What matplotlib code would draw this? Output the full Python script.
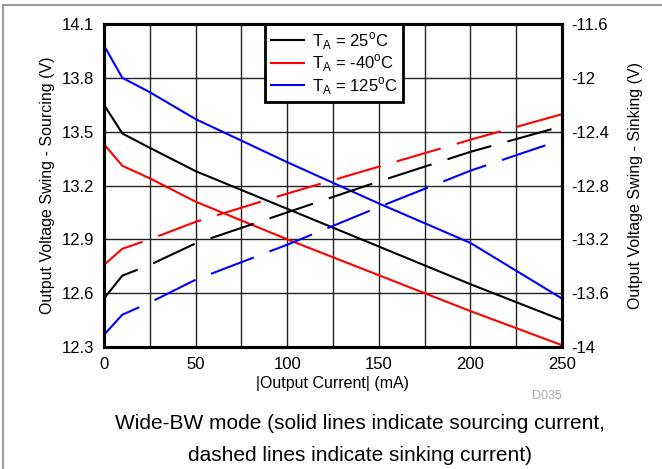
import matplotlib.pyplot as plt
from matplotlib.lines import Line2D
import numpy as np

plt.rcParams['font.family'] = ['Liberation Sans', 'DejaVu Sans']

# |output current| in mA
current = [0, 10, 25, 50, 100, 150, 200, 250]

# sourcing (solid, left axis, V)
src_25 = [13.65, 13.49, 13.41, 13.28, 13.07, 12.86, 12.65, 12.45]
src_m40 = [13.43, 13.31, 13.24, 13.11, 12.90, 12.70, 12.50, 12.31]
src_125 = [13.98, 13.80, 13.72, 13.57, 13.33, 13.10, 12.88, 12.57]

# sinking (dashed, right axis, V)
snk_25 = [-13.64, -13.47, -13.39, -13.23, -13.00, -12.77, -12.55, -12.36]
snk_m40 = [-13.39, -13.27, -13.20, -13.07, -12.86, -12.66, -12.46, -12.27]
snk_125 = [-13.91, -13.76, -13.67, -13.50, -13.24, -12.96, -12.69, -12.46]

labels = ['T$_{\\mathrm{A}}$ = 25$^{\\mathrm{o}}$C', 'T$_{\\mathrm{A}}$ = -40$^{\\mathrm{o}}$C',
          'T$_{\\mathrm{A}}$ = 125$^{\\mathrm{o}}$C']
colors = ['black', '#ff0000', '#0000ff']

plt.rcParams['mathtext.fontset'] = 'custom'
plt.rcParams['mathtext.rm'] = 'Liberation Sans'

fig = plt.figure(figsize=(6.62, 4.69), dpi=100)
ax = fig.add_axes([104 / 662, 1 - 347 / 469, 458 / 662, 323 / 469])
ax2 = ax.twinx()

for ys, c in zip([src_25, src_m40, src_125], colors):
    ax.plot(current, ys, color=c, lw=1.5, zorder=3)
for ys, c in zip([snk_25, snk_m40, snk_125], colors):
    ln, = ax2.plot(current, ys, color=c, lw=1.5)
    ln.set_dashes([22, 8])

ax.set_xlim(0, 250)
ax.set_ylim(12.3, 14.1)
ax2.set_ylim(-14, -11.6)
ax.set_xticks(np.arange(0, 251, 50))
ax.set_xticks(np.arange(0, 251, 25), minor=True)
ax.set_yticks(np.arange(12.3, 14.11, 0.3))
ax.set_yticklabels(['12.3', '12.6', '12.9', '13.2', '13.5', '13.8', '14.1'])
ax2.set_yticks(np.arange(-14, -11.59, 0.4))
ax2.set_yticklabels(['-14', '-13.6', '-13.2', '-12.8', '-12.4', '-12', '-11.6'])

ax.grid(True, which='both', axis='x', color='#222222', lw=1)
ax.grid(True, which='major', axis='y', color='#222222', lw=1)
ax.tick_params(which='both', length=0, labelsize=12, pad=7)
ax2.tick_params(length=0, labelsize=12, pad=7)
for a in (ax, ax2):
    for s in a.spines.values():
        s.set_linewidth(2.2)

ax.set_xlabel('|Output Current| (mA)', fontsize=11.5, labelpad=3)
ax.set_ylabel('Output Voltage Swing - Sourcing (V)', fontsize=11.5, labelpad=5)
ax2.set_ylabel('Output Voltage Swing - Sinking (V)', fontsize=11.5, labelpad=13)

handles = [Line2D([0], [0], color=c, lw=1.5) for c in colors]
leg = ax.legend(handles, labels, loc='upper left', bbox_to_anchor=(161 / 458, 1.0),
                fontsize=12, frameon=True, fancybox=False, framealpha=1,
                edgecolor='black', borderpad=0.35, handlelength=2.0,
                labelspacing=0.05, handletextpad=0.45, borderaxespad=0)
leg.get_frame().set_linewidth(2)
leg.set_zorder(5)

fig.text(547 / 662, 1 - 396 / 469, 'D035', fontsize=9, color='#aaaaaa',
         ha='center', va='center')
fig.text(360 / 662, 1 - 423 / 469, 'Wide-BW mode (solid lines indicate sourcing current,',
         fontsize=15, ha='center', va='center')
fig.text(360 / 662, 1 - 455 / 469, 'dashed lines indicate sinking current)',
         fontsize=15, ha='center', va='center')

# page border (left and top)
fig.add_artist(Line2D([3 / 662, 3 / 662], [0, 1 - 5 / 469], color='#888888', lw=1.2))
fig.add_artist(Line2D([3 / 662, 1], [1 - 5 / 469, 1 - 5 / 469], color='#888888', lw=1.2))

fig.savefig('out.png', dpi=100)
